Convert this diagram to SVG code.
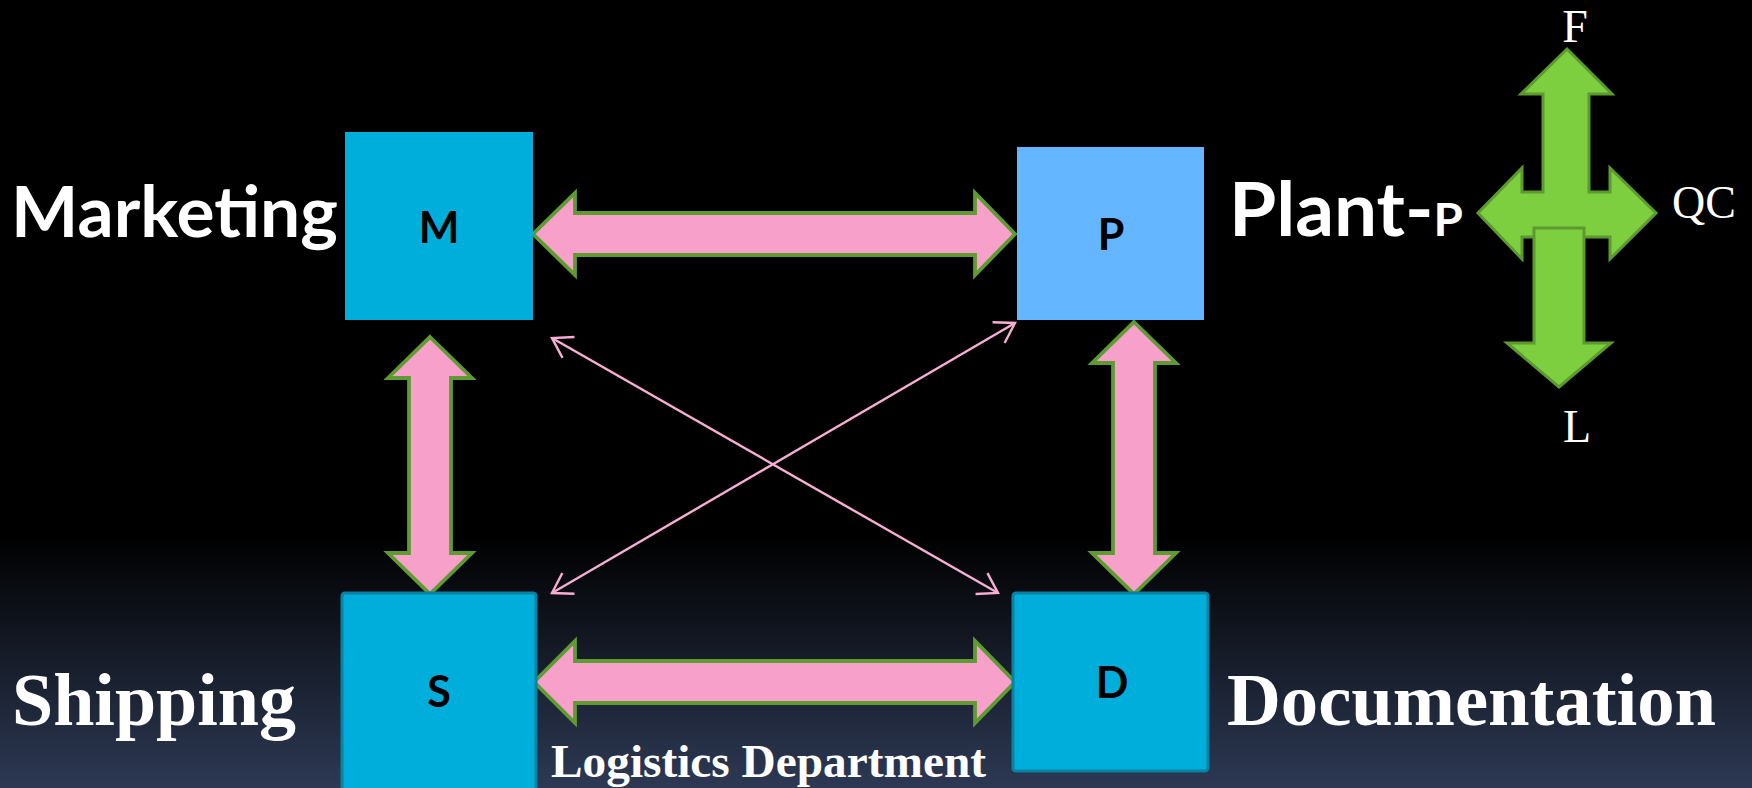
<svg xmlns="http://www.w3.org/2000/svg" width="1752" height="788" viewBox="0 0 1752 788">
  <defs>
    <linearGradient id="bg" x1="0" y1="0" x2="0" y2="1">
      <stop offset="0" stop-color="#000000"/>
      <stop offset="0.68" stop-color="#000000"/>
      <stop offset="1" stop-color="#2D3954"/>
    </linearGradient>
    <marker id="open-head" markerUnits="userSpaceOnUse" markerWidth="30" markerHeight="30" viewBox="-25 -15 30 30" refX="0" refY="0" orient="auto-start-reverse" overflow="visible">
      <path d="M-19,-12 L0,0 L-19,12" fill="none" stroke="#F6AED3" stroke-width="2.4" stroke-linejoin="miter"/>
    </marker>
    <style>
      .box { fill: #00AEDB; }
      .box-edged { fill: #00AEDB; stroke: #0A82A4; stroke-width: 3; }
      .box-plant { fill: #63B6FF; }
      .key { font-family: Lato, "Open Sans", sans-serif; font-weight: 700; font-size: 43px; fill: #000000; text-anchor: middle; }
      .sans-title { font-family: Lato, "Open Sans", sans-serif; font-weight: 700; fill: #FFFFFF; }
      .serif-title { font-family: "Liberation Serif", "Times New Roman", serif; font-weight: 700; fill: #FFFFFF; }
      .serif-small { font-family: "Liberation Serif", "Times New Roman", serif; font-weight: 400; font-size: 46px; fill: #FFFFFF; }
      .fat-arrow { fill: #F7A1CA; stroke: #5E9B30; stroke-width: 3.8; stroke-linejoin: miter; }
      .green-arrow { fill: #7DCF3F; stroke: #5C9A30; stroke-width: 3; stroke-linejoin: miter; }
      .thin-link { fill: none; stroke: #F6AED3; stroke-width: 2.4; marker-start: url(#open-head); marker-end: url(#open-head); }
    </style>
  </defs>

  <!-- backdrop -->
  <rect x="0" y="0" width="1752" height="788" fill="url(#bg)"/>

  <!-- links between departments -->
  <g id="connectors">
    <polygon class="fat-arrow" points="533,234 575,193 575,213 975,213 975,193 1015,234 975,275 975,255 575,255 575,275"/>
    <polygon class="fat-arrow" points="534,682 575,641 575,661 975,661 975,641 1015,682 975,723 975,703 575,703 575,723"/>
    <polygon class="fat-arrow" points="430,337 472,378 451,378 451,553 472,553 430,594 388,553 409,553 409,378 388,378"/>
    <polygon class="fat-arrow" points="1134,322 1176,363 1155,363 1155,553 1176,553 1134,594 1092,553 1113,553 1113,363 1092,363"/>
    <line class="thin-link" x1="552" y1="338" x2="998" y2="593"/>
    <line class="thin-link" x1="1015" y1="323" x2="552" y2="593"/>
  </g>

  <g id="node-marketing">
    <rect class="box" x="345" y="132" width="188" height="188"/>
    <text class="key" x="439" y="243">M</text>
    <text class="sans-title" x="11" y="237" font-size="71" textLength="327" lengthAdjust="spacingAndGlyphs">Marketing</text>
  </g>

  <g id="node-plant">
    <rect class="box-plant" x="1017" y="147" width="187" height="173"/>
    <text class="key" x="1111" y="250">P</text>
    <text class="sans-title" x="1229" y="236" font-size="74" textLength="234" lengthAdjust="spacingAndGlyphs">Plant-<tspan font-size="46">P</tspan></text>
  </g>

  <g id="node-shipping">
    <rect class="box-edged" x="342" y="593" width="194" height="200" rx="3"/>
    <text class="key" x="439" y="707">S</text>
    <text class="serif-title" x="12" y="725" font-size="75" textLength="284" lengthAdjust="spacingAndGlyphs">Shipping</text>
  </g>

  <g id="node-documentation">
    <rect class="box-edged" x="1013" y="593" width="195" height="178" rx="3"/>
    <text class="key" x="1112" y="698">D</text>
    <text class="serif-title" x="1227" y="725" font-size="75" textLength="489" lengthAdjust="spacingAndGlyphs">Documentation</text>
  </g>

  <g id="label-logistics">
    <text class="serif-title" x="551" y="777" font-size="47" textLength="435" lengthAdjust="spacingAndGlyphs">Logistics Department</text>
  </g>

  <!-- plant functions: F (up), QC (right), L (down) -->
  <g id="node-plant-functions">
    <polygon class="green-arrow" points="1567,49 1612,94 1589,94 1589,192 1610,192 1610,168 1656,213 1610,259 1610,237 1522,237 1522,259 1478,213 1522,168 1522,192 1543,192 1543,94 1521,94"/>
    <polygon class="green-arrow" points="1534,228 1584,228 1584,343 1611,343 1559,387 1507,343 1534,343"/>
    <text class="serif-small" x="1575" y="42" text-anchor="middle">F</text>
    <text class="serif-small" x="1672" y="218">QC</text>
    <text class="serif-small" x="1577" y="442" text-anchor="middle">L</text>
  </g>
</svg>
